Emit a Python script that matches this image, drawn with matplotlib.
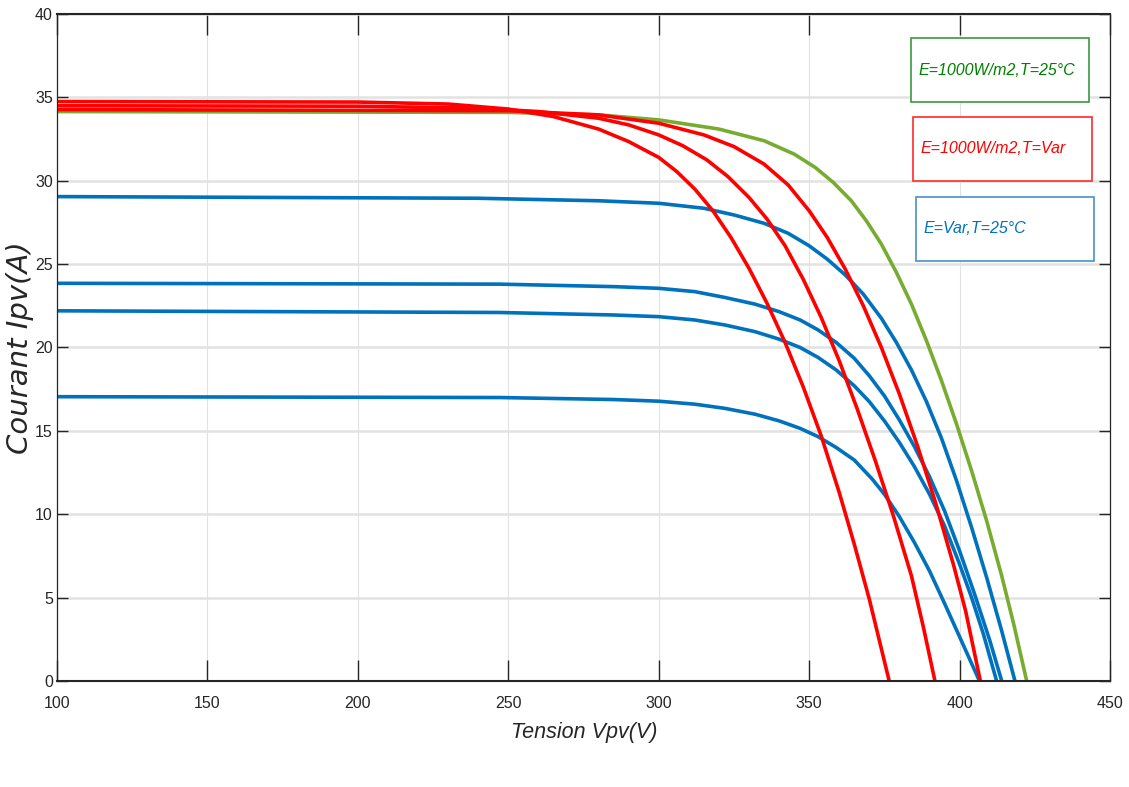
import numpy as np
import matplotlib
matplotlib.use('Agg')
import matplotlib.pyplot as plt
from matplotlib.patches import Rectangle

# courbes I-V (V en volts, I en amperes)
v_vert = [100, 250, 280, 300, 320, 335, 345, 352, 358, 364, 369, 374, 379, 384, 389, 394, 399, 404, 409, 414, 418, 422.3]
i_vert = [34.15, 34.1, 33.95, 33.65, 33.1, 32.4, 31.6, 30.8, 29.9, 28.8, 27.6, 26.2, 24.5, 22.6, 20.4, 18.0, 15.4, 12.6, 9.6, 6.3, 3.4, 0.0]

v_rouge1 = [100, 200, 230, 250, 265, 280, 290, 300, 306, 312, 318, 324, 330, 336, 342, 348, 354, 360, 365, 370, 376.6]
i_rouge1 = [34.75, 34.72, 34.6, 34.3, 33.85, 33.1, 32.35, 31.4, 30.55, 29.5, 28.2, 26.6, 24.75, 22.65, 20.3, 17.65, 14.7, 11.3, 8.2, 4.9, 0.0]

v_rouge2 = [100, 200, 240, 260, 280, 290, 300, 308, 316, 323, 330, 336, 342, 348, 354, 360, 366, 372, 378, 384, 388, 391.8]
i_rouge2 = [34.5, 34.47, 34.35, 34.15, 33.75, 33.35, 32.75, 32.1, 31.25, 30.25, 29.0, 27.7, 26.1, 24.1, 21.8, 19.2, 16.3, 13.2, 9.9, 6.3, 3.2, 0.0]

v_rouge3 = [100, 250, 280, 300, 315, 325, 335, 343, 350, 356, 362, 368, 374, 380, 386, 392, 398, 402, 406.9]
i_rouge3 = [34.27, 34.2, 33.95, 33.45, 32.75, 32.05, 31.0, 29.75, 28.2, 26.6, 24.7, 22.5, 20.0, 17.2, 14.1, 10.7, 6.95, 4.2, 0.0]

v_bleu1 = [100, 240, 280, 300, 315, 325, 335, 343, 350, 356, 362, 368, 374, 379, 384, 389, 394, 399, 404, 409, 414, 418.4]
i_bleu1 = [29.05, 28.95, 28.8, 28.65, 28.35, 27.95, 27.45, 26.85, 26.1, 25.3, 24.35, 23.2, 21.75, 20.3, 18.65, 16.75, 14.55, 12.0, 9.2, 6.2, 3.0, 0.0]

v_bleu2 = [100, 247, 285, 300, 312, 322, 332, 340, 347, 353, 359, 365, 370, 375, 380, 385, 390, 395, 400, 405, 410, 414]
i_bleu2 = [23.85, 23.8, 23.65, 23.55, 23.35, 23.0, 22.6, 22.15, 21.65, 21.05, 20.3, 19.35, 18.3, 17.1, 15.65, 14.05, 12.25, 10.2, 7.8, 5.2, 2.45, 0.0]

v_bleu3 = [100, 247, 285, 300, 312, 322, 332, 340, 347, 353, 359, 365, 370, 375, 380, 385, 390, 395, 400, 404, 408, 412.3]
i_bleu3 = [22.2, 22.1, 21.95, 21.85, 21.65, 21.35, 20.95, 20.5, 20.0, 19.4, 18.65, 17.7, 16.75, 15.6, 14.3, 12.85, 11.2, 9.3, 7.0, 5.0, 2.76, 0.0]

v_bleu4 = [100, 247, 285, 300, 312, 322, 332, 340, 347, 353, 359, 365, 371, 375, 380, 385, 390, 395, 400, 406.6]
i_bleu4 = [17.05, 17.0, 16.88, 16.78, 16.6, 16.35, 16.0, 15.6, 15.15, 14.65, 14.0, 13.25, 12.1, 11.2, 9.85, 8.3, 6.6, 4.65, 2.65, 0.0]

bleu = '#0072BD'
rouge = '#FF0000'
vert = '#77AC30'

plt.rcParams['font.family'] = ['Liberation Sans', 'DejaVu Sans']

fig = plt.figure(figsize=(11.29, 7.87), dpi=100)
ax = fig.add_axes([0.0505, 0.1347, 0.9327, 0.8475])

lw = 2.6
ax.plot(v_vert, i_vert, color=vert, lw=lw)
for v, i in [(v_bleu1, i_bleu1), (v_bleu2, i_bleu2), (v_bleu3, i_bleu3), (v_bleu4, i_bleu4)]:
    ax.plot(v, i, color=bleu, lw=lw)
for v, i in [(v_rouge1, i_rouge1), (v_rouge2, i_rouge2), (v_rouge3, i_rouge3)]:
    ax.plot(v, i, color=rouge, lw=lw)

ax.set_xlim(100, 450)
ax.set_ylim(0, 40)
ax.set_xticks(np.arange(100, 451, 50))
ax.set_yticks(np.arange(0, 41, 5))
ax.xaxis.grid(True, color='#e2e2e2', lw=0.8)
ax.yaxis.grid(True, color='#e2e2e2', lw=1.8)
ax.set_axisbelow(True)
ax.tick_params(direction='in', top=True, right=True, width=1,
               labelsize=11.5, colors='#262626')
ax.tick_params(axis='x', length=15, pad=11)
ax.tick_params(axis='y', length=8, pad=3)
for nom, s in ax.spines.items():
    s.set_color('#262626')
    s.set_linewidth(1.5 if nom in ('bottom', 'top') else 0.9)

ax.set_xlabel('Tension Vpv(V)', fontsize=15.5, style='italic', color='#262626')
ax.xaxis.set_label_coords(0.5005, -0.0765)
ax.xaxis.label.set_va('center')
ax.set_ylabel('Courant Ipv(A)', fontsize=21, style='italic', color='#262626',
              family='DejaVu Sans')
ax.yaxis.set_label_coords(-0.035, 0.50)
ax.yaxis.label.set_va('center')

# cadres de legende
boites = [((0.811, 0.8685), 0.169, 0.095, '#3a9a3a', '#008000', 'E=1000W/m2,T=25°C', 0.916),
          ((0.813, 0.750), 0.170, 0.096, '#ff2a2a', '#ff0000', 'E=1000W/m2,T=Var', 0.799),
          ((0.8155, 0.6297), 0.1695, 0.0953, '#4a90c8', bleu, 'E=Var,T=25°C', 0.678)]
for (x0, y0), w, h, ec, tc, txt, ty in boites:
    ax.add_patch(Rectangle((x0, y0), w, h, transform=ax.transAxes, fill=True,
                           facecolor='white', edgecolor=ec, lw=1.2, zorder=5))
    ax.text(x0 + 0.007, ty, txt, transform=ax.transAxes, color=tc, fontsize=11.5,
            style='italic', va='center', ha='left', zorder=6)

fig.savefig('out.png', dpi=100)
